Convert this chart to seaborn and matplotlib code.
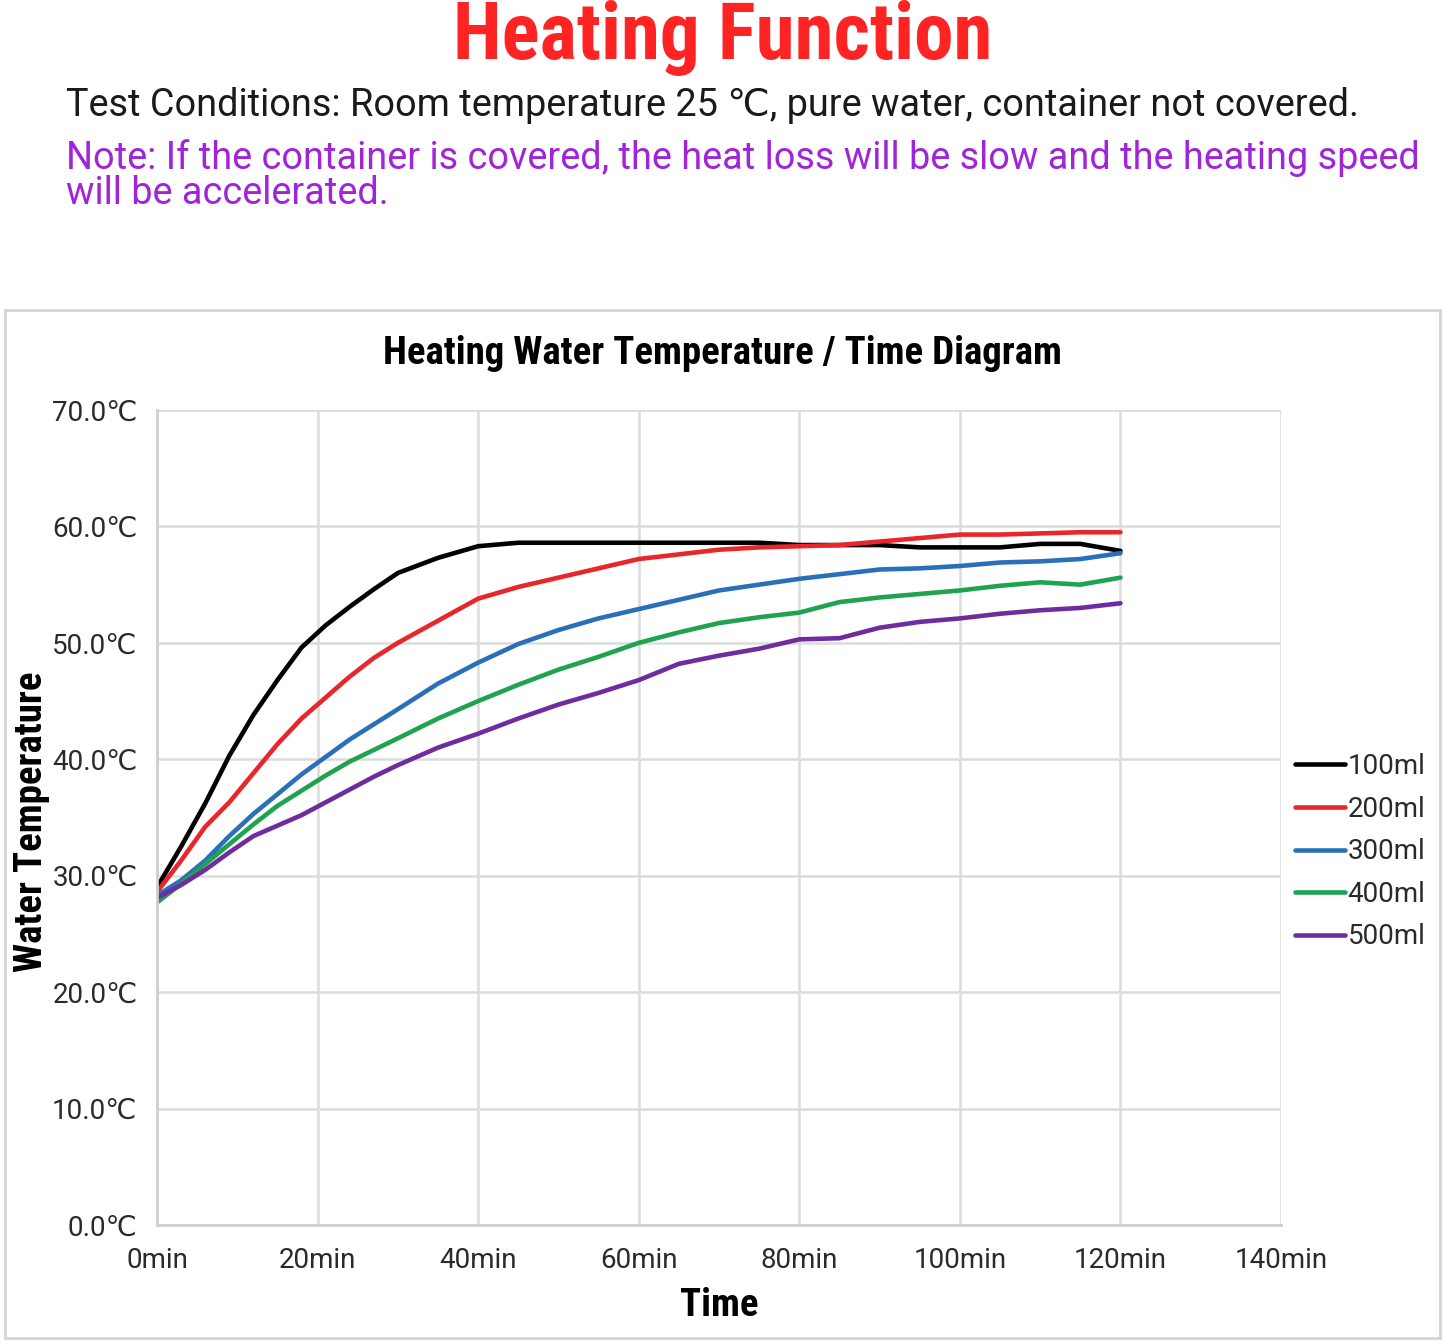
import matplotlib
matplotlib.use("Agg")
import matplotlib.pyplot as plt
from matplotlib import font_manager
from matplotlib.patches import Rectangle
import seaborn as sns
import pandas as pd

# ---------------- data ----------------
times = [0, 3, 6, 9, 12, 15, 18, 21, 24, 27, 30, 35, 40, 45, 50, 55, 60,
         65, 70, 75, 80, 85, 90, 95, 100, 105, 110, 115, 120]
temp_100 = [29.0, 32.5, 36.2, 40.3, 43.8, 46.8, 49.6, 51.5, 53.1, 54.6, 56.0, 57.3, 58.3,
            58.6, 58.6, 58.6, 58.6, 58.6, 58.6, 58.6, 58.4, 58.4, 58.4, 58.2, 58.2,
            58.2, 58.5, 58.5, 57.9]
temp_200 = [28.6, 31.3, 34.2, 36.3, 38.8, 41.3, 43.5, 45.3, 47.1, 48.7, 50.0, 51.9, 53.8,
            54.8, 55.6, 56.4, 57.2, 57.6, 58.0, 58.2, 58.3, 58.4, 58.7, 59.0, 59.3,
            59.3, 59.4, 59.5, 59.5]
temp_300 = [28.3, 29.6, 31.3, 33.4, 35.3, 37.0, 38.7, 40.2, 41.7, 43.0, 44.3, 46.5, 48.3,
            49.9, 51.1, 52.1, 52.9, 53.7, 54.5, 55.0, 55.5, 55.9, 56.3, 56.4, 56.6,
            56.9, 57.0, 57.2, 57.7]
temp_400 = [27.7, 29.3, 31.0, 32.7, 34.4, 36.0, 37.3, 38.6, 39.8, 40.8, 41.8, 43.5, 45.0,
            46.4, 47.7, 48.8, 50.0, 50.9, 51.7, 52.2, 52.6, 53.5, 53.9, 54.2, 54.5,
            54.9, 55.2, 55.0, 55.6]
temp_500 = [28.1, 29.2, 30.5, 32.0, 33.4, 34.3, 35.2, 36.3, 37.4, 38.5, 39.5, 41.0, 42.2,
            43.5, 44.7, 45.7, 46.8, 48.2, 48.9, 49.5, 50.3, 50.4, 51.3, 51.8, 52.1,
            52.5, 52.8, 53.0, 53.4]
series_names = ["100ml", "200ml", "300ml", "400ml", "500ml"]
series_colors = ["#000000", "#e8262b", "#2a70b8", "#1fa34f", "#6f2c9e"]
x_ticks = [0, 20, 40, 60, 80, 100, 120, 140]
x_tick_labels = ["0min", "20min", "40min", "60min", "80min", "100min", "120min", "140min"]
y_ticks = [0, 10, 20, 30, 40, 50, 60, 70]
y_tick_labels = ["0.0℃", "10.0℃", "20.0℃", "30.0℃", "40.0℃", "50.0℃", "60.0℃", "70.0℃"]

frames = []
for name, vals in zip(series_names, [temp_100, temp_200, temp_300, temp_400, temp_500]):
    frames.append(pd.DataFrame({"Time": times, "Temp": vals, "Volume": name}))
df = pd.concat(frames, ignore_index=True)

# ---------------- fonts ----------------
available = {f.name for f in font_manager.fontManager.ttflist}
def pick(cands):
    for c in cands:
        if c in available:
            return c
    return "DejaVu Sans"
cond_font = pick(["Roboto Condensed", "Liberation Sans Narrow", "DejaVu Sans Condensed", "DejaVu Sans"])
body_font = pick(["Roboto", "Liberation Sans", "DejaVu Sans"])
FAM = [body_font, "DejaVu Sans"]
CFAM = [cond_font, "DejaVu Sans"]

sns.set_theme(style="white")
plt.rcParams["font.family"] = FAM

W, H = 1445, 1343
fig = plt.figure(figsize=(W / 100, H / 100), dpi=100)
fig.patch.set_facecolor("white")

def fx(px):
    return px / W
def fy(py):
    return 1 - py / H

# headline texts
fig.text(0.5, fy(38), "Heating Function", color="#ff2424", fontsize=57,
         fontweight="heavy", family=CFAM, ha="center", va="center")
fig.text(fx(66), fy(106), "Test Conditions: Room temperature 25 ℃, pure water, container not covered.",
         color="#1a1a1a", fontsize=27.3, ha="left", va="center", family=FAM)
fig.text(fx(66), fy(158), "Note: If the container is covered, the heat loss will be slow and the heating speed",
         color="#a024d8", fontsize=27.3, ha="left", va="center", family=FAM)
fig.text(fx(66), fy(194), "will be accelerated.",
         color="#a024d8", fontsize=27.3, ha="left", va="center", family=FAM)

# chart frame
fig.patches.append(Rectangle((fx(5), fy(1338)), fx(1435), (1338 - 310) / H, transform=fig.transFigure,
                             fill=False, edgecolor="#d4d4d4", linewidth=2))
fig.text(0.5, fy(353), "Heating Water Temperature / Time Diagram", color="black", fontsize=28,
         fontweight="heavy", family=CFAM, ha="center", va="center")

ax = fig.add_axes([fx(157), fy(1225), fx(1281 - 157), (1225 - 410) / H])
sns.lineplot(data=df, x="Time", y="Temp", hue="Volume", palette=series_colors,
             hue_order=series_names, linewidth=3.3, ax=ax, legend=True)

ax.set_xlim(0, 140)
ax.set_ylim(0, 70)
ax.set_xticks(x_ticks)
ax.set_xticklabels(x_tick_labels)
ax.set_yticks(y_ticks)
ax.set_yticklabels(y_tick_labels)
ax.tick_params(axis="both", labelsize=20, colors="#2a2a2a", length=0)
ax.tick_params(axis="x", pad=16)
ax.tick_params(axis="y", pad=14)
ax.grid(True, color="#dcdcdc", linewidth=1.8)
for s in ["top", "right"]:
    ax.spines[s].set_visible(False)
for s in ["left", "bottom"]:
    ax.spines[s].set_color("#cfcfcf")
    ax.spines[s].set_linewidth(2)
ax.set_axisbelow(True)

ax.set_xlabel("Time", fontsize=28, fontweight="heavy", family=CFAM, color="black")
ax.xaxis.set_label_coords(0.5, (1225 - 1287) / (1225 - 410))
ax.set_ylabel("Water Temperature", fontsize=28, fontweight="heavy", family=CFAM, color="black")
ax.yaxis.set_label_coords((50 - 157) / (1281 - 157), (1225 - 822) / (1225 - 410))

leg = ax.legend(loc="center left", bbox_to_anchor=(1.0, 0.458), frameon=False,
                fontsize=20, handlelength=1.8, handletextpad=0.1, labelspacing=0.56,
                borderaxespad=0.2, borderpad=0.3)
for line in leg.get_lines():
    line.set_linewidth(3.3)
for t in leg.get_texts():
    t.set_color("#2a2a2a")

fig.savefig("out.png", dpi=100, facecolor="white")
